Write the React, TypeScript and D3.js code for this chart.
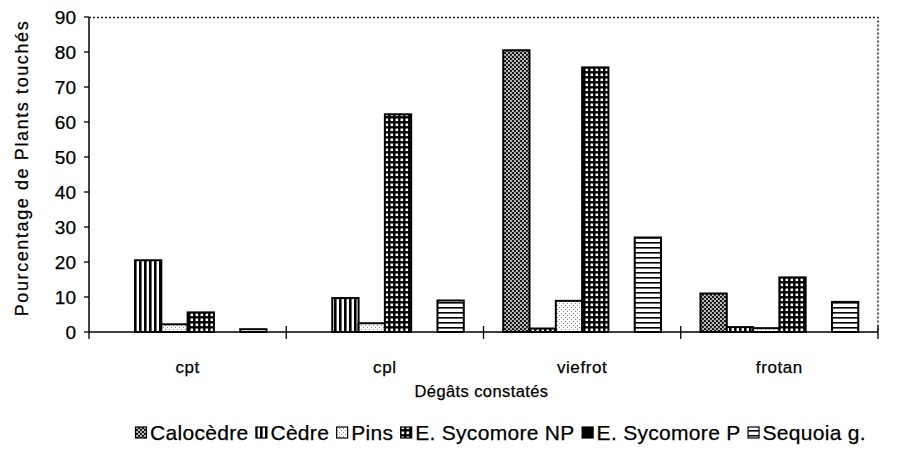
import React, { useEffect, useRef } from 'react';
import * as d3 from 'd3';

// data
const categories = ['cpt', 'cpl', 'viefrot', 'frotan'];
const seriesNames = ['Calocèdre', 'Cèdre', 'Pins', 'E. Sycomore NP', 'E. Sycomore P', 'Sequoia g.'];
const calocedre = [0, 0, 80.5, 11];
const cedre = [20.5, 9.7, 1, 1.4];
const pins = [2.2, 2.5, 8.9, 1.1];
const sycomoreNP = [5.6, 62.2, 75.6, 15.6];
const sycomoreP = [0, 0, 0, 0];
const sequoia = [0.8, 9, 27, 8.6];
const yTicks = [0, 10, 20, 30, 40, 50, 60, 70, 80, 90];

const seriesValues = [calocedre, cedre, pins, sycomoreNP, sycomoreP, sequoia];
const patternIds = ['p-caloc', 'p-cedre', 'p-pins', 'p-sycnp', 'p-sycp', 'p-seq'];

const FONT = '"Liberation Sans", Arial, Helvetica, sans-serif';

const App: React.FC = () => {
  const svgRef = useRef<SVGSVGElement>(null);

  useEffect(() => {
    document.body.style.margin = '0';
    if (!svgRef.current) return;
    const svg = d3.select(svgRef.current);
    svg.selectAll('*').remove();

    const width = 899;
    const height = 457;
    const margin = { top: 17, right: 21, bottom: 125, left: 89 };
    const innerW = width - margin.left - margin.right;
    const innerH = height - margin.top - margin.bottom;

    svg.attr('width', width).attr('height', height).style('background', '#fff');

    // patterns
    const defs = svg.append('defs');
    const caloc = defs.append('pattern').attr('id', 'p-caloc').attr('patternUnits', 'userSpaceOnUse')
      .attr('width', 4).attr('height', 4);
    caloc.append('rect').attr('width', 4).attr('height', 4).attr('fill', '#fff');
    caloc.append('path').attr('d', 'M0,0L4,4M4,0L0,4M-1,3L1,5M3,-1L5,1M-1,1L1,-1M3,5L5,3')
      .attr('stroke', '#111').attr('stroke-width', 1.2);

    const ced = defs.append('pattern').attr('id', 'p-cedre').attr('patternUnits', 'userSpaceOnUse')
      .attr('width', 5).attr('height', 5);
    ced.append('rect').attr('width', 5).attr('height', 5).attr('fill', '#fff');
    ced.append('rect').attr('x', 0).attr('width', 2.6).attr('height', 5).attr('fill', '#000');

    const pin = defs.append('pattern').attr('id', 'p-pins').attr('patternUnits', 'userSpaceOnUse')
      .attr('width', 4).attr('height', 4);
    pin.append('rect').attr('width', 4).attr('height', 4).attr('fill', '#fff');
    pin.append('rect').attr('x', 0).attr('y', 0).attr('width', 1).attr('height', 1).attr('fill', '#888');
    pin.append('rect').attr('x', 2).attr('y', 2).attr('width', 1).attr('height', 1).attr('fill', '#888');

    const np = defs.append('pattern').attr('id', 'p-sycnp').attr('patternUnits', 'userSpaceOnUse')
      .attr('width', 5).attr('height', 5);
    np.append('rect').attr('width', 5).attr('height', 5).attr('fill', '#000');
    np.append('rect').attr('x', 1.5).attr('y', 1.5).attr('width', 2.6).attr('height', 2.6).attr('fill', '#fff');

    const sp = defs.append('pattern').attr('id', 'p-sycp').attr('patternUnits', 'userSpaceOnUse')
      .attr('width', 4).attr('height', 4);
    sp.append('rect').attr('width', 4).attr('height', 4).attr('fill', '#000');

    const seq = defs.append('pattern').attr('id', 'p-seq').attr('patternUnits', 'userSpaceOnUse')
      .attr('width', 5).attr('height', 5);
    seq.append('rect').attr('width', 5).attr('height', 5).attr('fill', '#fff');
    seq.append('rect').attr('y', 0).attr('width', 5).attr('height', 1.6).attr('fill', '#000');

    const g = svg.append('g').attr('transform', `translate(${margin.left},${margin.top})`);

    const x0 = d3.scaleBand().domain(categories).range([0, innerW]).padding(0);
    const x1 = d3.scaleBand().domain(seriesNames).range([0, x0.bandwidth()])
      .paddingInner(0).paddingOuter(0.75);
    const y = d3.scaleLinear().domain([0, 90]).range([innerH, 0]);

    // small helper for the slightly heavy print-style text
    const txt = (sel: d3.Selection<any, unknown, null, undefined>, size: number, ls = 0) =>
      sel.append('text')
        .attr('font-family', FONT).attr('font-size', size)
        .attr('letter-spacing', ls)
        .attr('fill', '#000').attr('stroke', '#000').attr('stroke-width', 0.25);

    // dotted frame (top, right)
    g.append('path')
      .attr('d', `M0,0.5H${innerW}V${innerH}`)
      .attr('fill', 'none').attr('stroke', '#222').attr('stroke-width', 1.5)
      .attr('stroke-dasharray', '2,2');

    // bars
    categories.forEach((cat, ci) => {
      seriesNames.forEach((s, si) => {
        const v = seriesValues[si][ci];
        if (v <= 0) return;
        g.append('rect')
          .attr('x', (x0(cat) || 0) + (x1(s) || 0))
          .attr('y', y(v))
          .attr('width', x1.bandwidth())
          .attr('height', innerH - y(v))
          .attr('fill', `url(#${patternIds[si]})`)
          .attr('stroke', '#000')
          .attr('stroke-width', 2);
      });
    });

    // y axis
    const yAxis = g.append('g');
    yAxis.append('line').attr('x1', 0).attr('x2', 0).attr('y1', 0).attr('y2', innerH)
      .attr('stroke', '#000').attr('stroke-width', 1.5);
    yTicks.forEach(t => {
      yAxis.append('line').attr('x1', -5).attr('x2', 0).attr('y1', y(t)).attr('y2', y(t))
        .attr('stroke', '#000').attr('stroke-width', 1.3);
      txt(yAxis, 19).attr('x', -13).attr('y', y(t)).attr('dy', '0.36em')
        .attr('text-anchor', 'end').text(String(t));
    });

    // x axis
    const xAxis = g.append('g').attr('transform', `translate(0,${innerH})`);
    xAxis.append('line').attr('x1', 0).attr('x2', innerW).attr('stroke', '#000').attr('stroke-width', 1.5);
    const bounds = categories.map(c => x0(c) || 0).concat([innerW]);
    bounds.forEach((b, i) => {
      xAxis.append('line').attr('x1', b).attr('x2', b).attr('y1', i === 0 ? 0 : -6).attr('y2', 7)
        .attr('stroke', '#000').attr('stroke-width', 1.3);
    });
    categories.forEach(c => {
      txt(xAxis, 17, 0.6).attr('x', (x0(c) || 0) + x0.bandwidth() / 2).attr('y', 41)
        .attr('text-anchor', 'middle').text(c);
    });

    // axis titles
    txt(svg, 16.5, 0.4)
      .attr('x', margin.left + innerW / 2 - 2).attr('y', 397)
      .attr('text-anchor', 'middle')
      .text('Dégâts constatés');

    txt(svg, 18, 1.6)
      .attr('transform', `translate(28,168) rotate(-90)`)
      .attr('text-anchor', 'middle')
      .text('Pourcentage de Plants touchés');

    // legend
    const legend = svg.append('g').attr('transform', 'translate(135,440)');
    let cx = 0;
    seriesNames.forEach((s, si) => {
      legend.append('rect').attr('x', cx + 0.5).attr('y', -13).attr('width', 11).attr('height', 11)
        .attr('fill', `url(#${patternIds[si]})`).attr('stroke', '#000').attr('stroke-width', 1.2);
      const t = txt(legend, 21, 0.3).attr('x', cx + 15).attr('y', 0).text(s);
      const len = (t.node() as SVGTextElement).getComputedTextLength();
      cx += 15 + len + 7;
    });
  }, []);

  return <svg ref={svgRef} style={{ display: 'block' }} />;
};

export default App;
